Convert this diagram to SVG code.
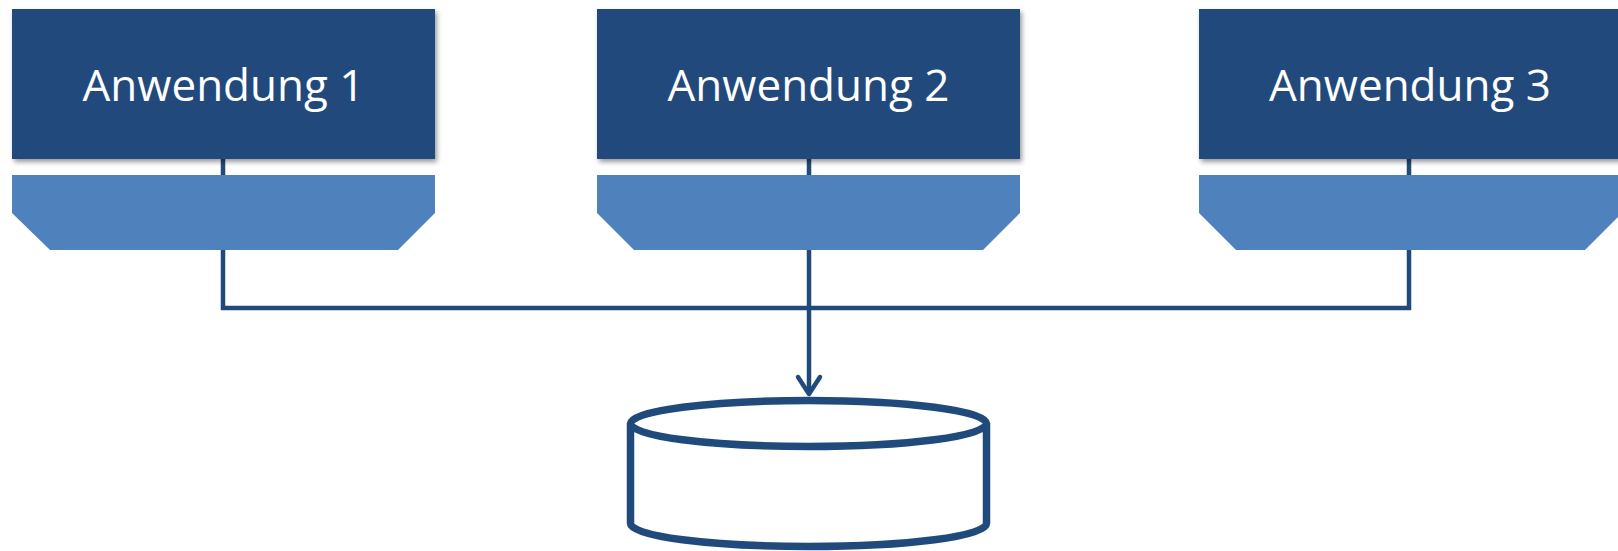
<svg xmlns="http://www.w3.org/2000/svg" width="1618" height="551" viewBox="0 0 1618 551">
<style>
.box{fill:#214A7C;filter:url(#sh)}
.trap{fill:#4F81BD}
.lbl{font-family:"Open Sans","Liberation Sans",sans-serif;font-size:44px;fill:#FFFFFF;text-anchor:middle}
.ln{fill:none;stroke:#214A7C;stroke-width:4.5}
.db{fill:#FFFFFF;stroke:#214A7C;stroke-width:7.5;stroke-linejoin:round}
</style>
<defs>
<filter id="sh" x="-5%" y="-10%" width="115%" height="130%">
<feDropShadow dx="2" dy="3" stdDeviation="2.5" flood-color="#000" flood-opacity="0.4"/>
</filter>
</defs>
<rect width="1618" height="551" fill="#FFFFFF"/>
<g id="connectors">
<path class="ln" d="M223,159 V308 H1409 V159"/>
<path class="ln" d="M809,158 V392"/>
<path d="M798,377 L809,394 L820,377" fill="none" stroke="#214A7C" stroke-width="4.5" stroke-linecap="round" stroke-linejoin="round"/>
</g>
<g id="app1">
<rect class="box" x="12" y="9" width="423" height="150"/>
<text class="lbl" x="223.5" y="101">Anwendung 1</text>
</g>
<g id="iface1">
<polygon class="trap" points="12,175 435,175 435,213 398,250 50,250 12,213"/>
</g>
<g id="app2">
<rect class="box" x="597" y="9" width="423" height="150"/>
<text class="lbl" x="808.5" y="101">Anwendung 2</text>
</g>
<g id="iface2">
<polygon class="trap" points="597,175 1020,175 1020,213 983,250 634,250 597,213"/>
</g>
<g id="app3">
<rect class="box" x="1199" y="9" width="423" height="150"/>
<text class="lbl" x="1410" y="101">Anwendung 3</text>
</g>
<g id="iface3">
<polygon class="trap" points="1199,175 1622,175 1622,213 1585,250 1236,250 1199,213"/>
</g>
<g id="database">
<path class="db" d="M630.5,423.5 V523.5 A178,23 0 0 0 986.5,523.5 V423.5"/>
<ellipse class="db" cx="808.5" cy="423.5" rx="178" ry="23"/>
</g>
</svg>
